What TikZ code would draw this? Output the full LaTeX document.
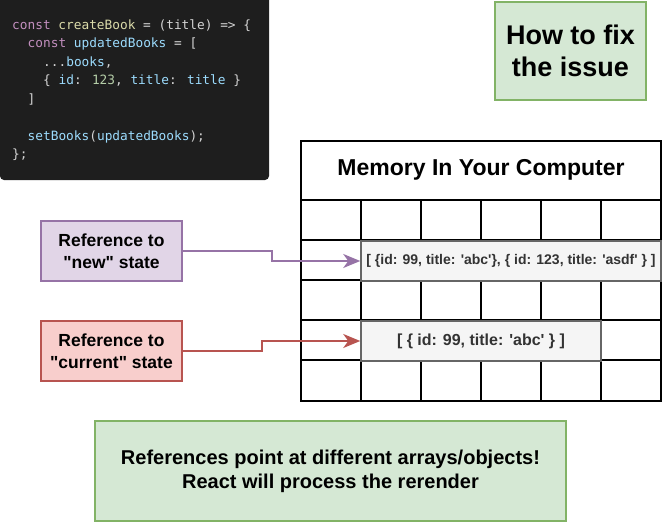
\documentclass[tikz,border=0pt]{standalone}
\usepackage{fontspec}
\setmainfont{Liberation Sans}[Ligatures=TeXOff]
\newfontfamily\codefont{DejaVu Sans Mono}
\usetikzlibrary{arrows.meta}
\definecolor{codebg}{HTML}{1E1E1E}
\definecolor{ckw}{HTML}{C38FBF}
\definecolor{cfn}{HTML}{DCDCAA}
\definecolor{cpl}{HTML}{D4D4D4}
\definecolor{cvar}{HTML}{9CDCFE}
\definecolor{cnum}{HTML}{B5CEA8}
\definecolor{gfill}{HTML}{D5E8D4}
\definecolor{gline}{HTML}{82B366}
\definecolor{pfill}{HTML}{E1D5E7}
\definecolor{pline}{HTML}{9673A6}
\definecolor{rfill}{HTML}{F8CECC}
\definecolor{rline}{HTML}{B85450}
\definecolor{afill}{HTML}{F5F5F5}
\definecolor{aline}{HTML}{666666}
\definecolor{atext}{HTML}{333333}
\tikzset{
  codeline/.style={anchor=base west, inner sep=0pt, text=cpl, font=\codefont\fontsize{12.8}{15}\selectfont},
  greenbox/.style={draw=gline, fill=gfill, line width=1.5pt, align=center, inner sep=0pt},
  refbox/.style={line width=1.5pt, align=center, inner sep=0pt, minimum width=141pt, minimum height=60pt,
    font=\bfseries\fontsize{17.5}{22}\selectfont},
  arrbox/.style={draw=aline, fill=afill, line width=1.5pt, inner sep=0pt, minimum height=40pt, text=atext},
  grid/.style={line width=1.6pt, draw=black},
  refarrow/.style={line width=1.8pt, -{Stealth[length=17pt,width=14pt,inset=5pt]}},
}
\begin{document}
\begin{tikzpicture}[x=1pt,y=-1pt]
\useasboundingbox (0,0) rectangle (662,522);
% code panel
\fill[codebg, rounded corners=4pt] (0,-4) rectangle (269,180);
\node[codeline] (c1) at (12,29) {\textcolor{ckw}{const} \textcolor{cfn}{createBook} = (title) => \{};
\node[codeline] (c2) at (27.5,47.5) {\textcolor{ckw}{const} \textcolor{cvar}{updatedBooks} = [};
\node[codeline] (c3) at (43,66) {...\textcolor{cvar}{books},};
\node[codeline] (c4) at (43,84.5) {\{ \textcolor{cvar}{id}: \textcolor{cnum}{123}, \textcolor{cvar}{title}: \textcolor{cvar}{title} \}};
\node[codeline] (c5) at (27.5,103) {]};
\node[codeline] (c6) at (27.5,140) {\textcolor{cvar}{setBooks}(\textcolor{cvar}{updatedBooks});};
\node[codeline] (c7) at (12,158.5) {\};};
% title box
\node[greenbox, minimum width=151pt, minimum height=98pt, font=\bfseries\fontsize{27}{32}\selectfont] (fix) at (570.5,51) {How to fix\\the issue};
% memory grid
\draw[grid] (301,141) rectangle (661,401);
\foreach \yy in {200,240,280,320,360} \draw[grid] (301,\yy) -- (661,\yy);
\foreach \xx in {361,421,481,541,601} \draw[grid] (\xx,200) -- (\xx,401);
\node[font=\bfseries\fontsize{23}{28}\selectfont] (mem) at (481,170) {Memory In Your Computer};
% arrays
\node[arrbox, minimum width=300pt, font=\bfseries\fontsize{14}{17}\selectfont] (newarr) at (511,261) {[ \{id: 99, title: 'abc'\}, \{ id: 123, title: 'asdf' \} ]};
\node[arrbox, minimum width=240pt, font=\bfseries\fontsize{16}{20}\selectfont] (curarr) at (481,341) {[ \{ id: 99, title: 'abc' \} ]};
% references
\node[refbox, draw=pline, fill=pfill] (newref) at (111.5,251) {Reference to\\"new" state};
\node[refbox, draw=rline, fill=rfill] (curref) at (111.5,351) {Reference to\\"current" state};
\draw[refarrow, draw=pline] (newref.east) -- ++(89,0) |- (newarr.west);
\draw[refarrow, draw=rline] (curref.east) -- ++(79,0) |- (curarr.west);
% bottom note
\node[greenbox, minimum width=471pt, minimum height=100pt, font=\bfseries\fontsize{20}{24}\selectfont] (note) at (330.5,471) {References point at different arrays/objects!\\React will process the rerender};
\end{tikzpicture}
\end{document}
